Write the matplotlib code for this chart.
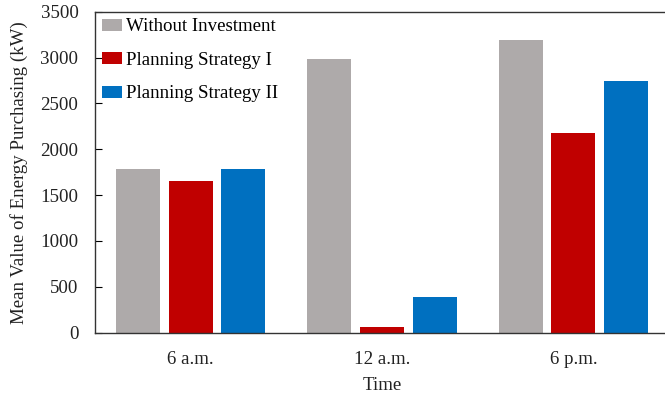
import numpy as np
import matplotlib
matplotlib.use("Agg")
import matplotlib.pyplot as plt

# ---- Data ----
times = ["6 a.m.", "12 a.m.", "6 p.m."]
without_investment = [1790, 2985, 3195]
strategy_1 = [1655, 60, 2175]
strategy_2 = [1790, 385, 2740]

series_names = ["Without Investment", "Planning Strategy I", "Planning Strategy II"]
colors = ["#AEAAAA", "#C00000", "#0070C0"]

plt.rcParams["font.family"] = ["Liberation Serif", "DejaVu Serif"]
plt.rcParams["font.size"] = 13.6

fig = plt.figure(figsize=(6.65, 3.95), dpi=100)
# axes run slightly past the right edge of the image, as in the reference
ax = fig.add_axes([0.143, 0.158, 0.863, 0.812])

x = np.arange(len(times))
pitch = 0.275
width = 0.23
for i, (vals, name, c) in enumerate(zip([without_investment, strategy_1, strategy_2],
                                        series_names, colors)):
    ax.bar(x + (i - 1) * pitch, vals, width=width, color=c, label=name)

ax.set_xlim(-0.5, 2.5)
ax.set_ylim(0, 3500)
ax.set_yticks(np.arange(0, 3501, 500))
ax.set_xticks(x)
ax.set_xticklabels(times)
ax.tick_params(axis="y", direction="in", length=5, width=0.8, pad=12)
ax.tick_params(axis="x", length=0, pad=13)
for lbl in ax.get_xticklabels() + ax.get_yticklabels():
    lbl.set_color("#222222")

for s in ["left", "top", "bottom"]:
    ax.spines[s].set_color("#333333")
    ax.spines[s].set_linewidth(1.0)
ax.spines["right"].set_visible(False)

ax.set_xlabel("Time", labelpad=7, color="#222222")
ax.set_ylabel("Mean Value of Energy Purchasing (kW)", labelpad=9, color="#222222")

ax.legend(loc="upper left", frameon=False, labelspacing=0.87,
          handlelength=1.1, handleheight=0.6, handletextpad=0.2,
          borderaxespad=0.15, borderpad=0.2)

fig.savefig("out.png", dpi=100)
